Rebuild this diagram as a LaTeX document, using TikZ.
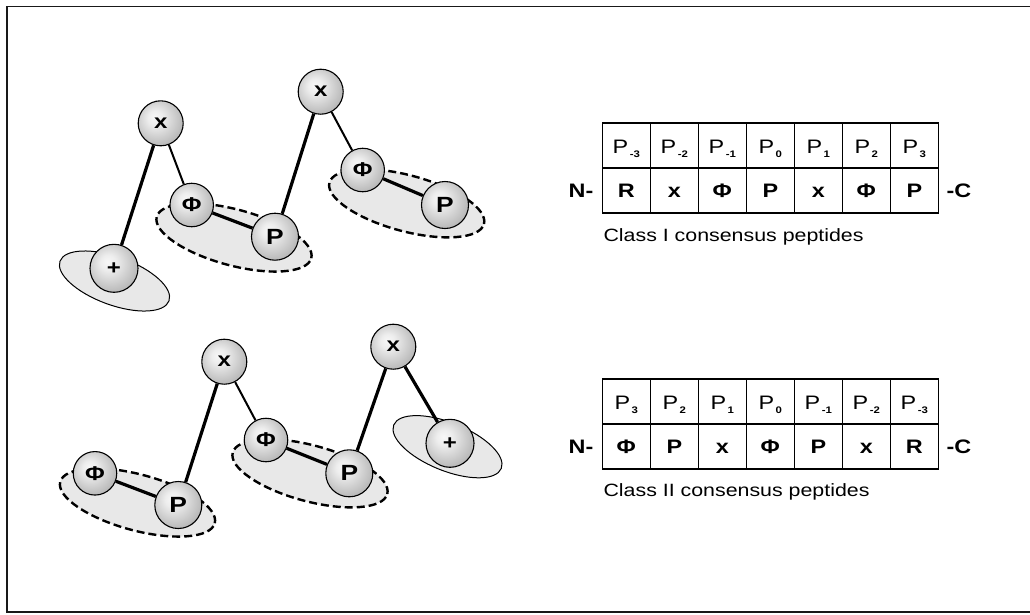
\documentclass[tikz,border=0pt]{standalone}
\usepackage{fontspec}
\setmainfont{Liberation Sans}
\newfontfamily\wf[FakeStretch=1.2]{Liberation Sans}
\usetikzlibrary{shapes.geometric}
\pgfdeclareradialshading{sphere}{\pgfpoint{-7bp}{7bp}}{color(0bp)=(white!97!black); color(8bp)=(white!93!black); color(26bp)=(black!25); color(44bp)=(black!43); color(60bp)=(black!55)}
\begin{document}
\begin{tikzpicture}[x=1pt,y=-1pt,
  ball/.style={circle, draw, line width=1.1pt, shading=sphere, inner sep=0pt,
    font=\wf\bfseries\fontsize{20}{20}\selectfont},
  bx/.style={ball, minimum size=45pt},
  bphi/.style={ball, minimum size=43.5pt},
  bp/.style={ball, minimum size=47pt, font=\wf\bfseries\fontsize{22}{22}\selectfont},
  bplus/.style={ball, minimum size=48pt},
  solidell/.style={ellipse, draw, line width=1pt, fill=black!9, inner sep=0pt,
    minimum width=116pt, minimum height=48pt},
  dashell/.style={ellipse, draw, line width=2.4pt, dash pattern=on 8pt off 4pt,
    fill=black!9, inner sep=0pt, minimum width=160pt, minimum height=56pt},
  thickln/.style={line width=3.2pt},
  thinln/.style={line width=2pt},
  grid/.style={line width=1.5pt},
  hdr/.style={anchor=base, font=\wf\fontsize{19.5}{20}\selectfont},
  cell/.style={anchor=base, font=\wf\bfseries\fontsize{19.5}{20}\selectfont},
  lbl/.style={font=\wf\bfseries\fontsize{19.5}{20}\selectfont},
  captxt/.style={anchor=base west, font=\wf\fontsize{17.8}{18}\selectfont}
]
\useasboundingbox (0,0) rectangle (1030,614);
\draw[line width=1.5pt, black!90] (7,6.5) rectangle (1034,612);

% ---------- top molecule ----------
\node[solidell, rotate=-20] (ep1) at (114.5,281) {};
\node[dashell, rotate=-15] (ed1) at (234,237.5) {};
\node[dashell, rotate=-15] (ed2) at (406.7,203.3) {};

\node[bx] (x1) at (160.7,123.3) {x};
\node[bphi] (phi1) at (191.7,205) {Φ};
\node[bp] (p1) at (275,236.7) {P};
\node[bplus] (plus1) at (114,268.3) {+};
\node[bx] (x2) at (320.7,91.7) {x};
\node[bphi] (phi2) at (362.7,170) {Φ};
\node[bp] (p2) at (445,205) {P};

\draw[thickln] (x1) -- (plus1);
\draw[thinln] (x1) -- (phi1);
\draw[thickln] (phi1) -- (p1);
\draw[thickln] (p1) -- (x2);
\draw[thinln] (x2) -- (phi2);
\draw[thickln] (phi2) -- (p2);

% ---------- bottom molecule ----------
\node[dashell, rotate=-15] (ed3) at (137.5,502.5) {};
\node[dashell, rotate=-15] (ed4) at (310,473.3) {};
\node[solidell, rotate=-22] (ep2) at (447.5,446.7) {};

\node[bphi] (phi3) at (95,473.3) {Φ};
\node[bp] (p3) at (178.3,505) {P};
\node[bx] (x3) at (224.3,361.7) {x};
\node[bphi] (phi4) at (266,440) {Φ};
\node[bp] (p4) at (349.3,473.3) {P};
\node[bx] (x4) at (393.3,346.7) {x};
\node[bplus] (plus2) at (450,443.3) {+};

\draw[thickln] (phi3) -- (p3);
\draw[thickln] (p3) -- (x3);
\draw[thinln] (x3) -- (phi4);
\draw[thickln] (phi4) -- (p4);
\draw[thickln] (p4) -- (x4);
\draw[thickln] (x4) -- (plus2);

% ---------- table I ----------
\draw[grid] (602.3,123) rectangle (938.3,213);
\draw[grid] (602.3,168) -- (938.3,168);
\foreach \i in {1,...,6} \draw[grid] ({602.3+48*\i},123) -- ({602.3+48*\i},213);
\foreach \s [count=\i from 0] in {-3,-2,-1,0,1,2,3}
  \node[hdr] (ta\i) at ({626.3+48*\i},153.3) {P\kern1.5pt\raisebox{-4.5pt}{\fontsize{9.5}{9.5}\selectfont\bfseries \s}};
\foreach \s [count=\i from 0] in {R,x,Φ,P,x,Φ,P}
  \node[cell] (tb\i) at ({626.3+48*\i},197.7) {\s};
\node[lbl] (n1) at (581,190.5) {N-};
\node[lbl] (c1) at (959,190.5) {-C};
\node[captxt] (cls1) at (600,241.7) {Class I consensus peptides};

% ---------- table II ----------
\draw[grid] (602.3,379) rectangle (938.3,469);
\draw[grid] (602.3,424) -- (938.3,424);
\foreach \i in {1,...,6} \draw[grid] ({602.3+48*\i},379) -- ({602.3+48*\i},469);
\foreach \s [count=\i from 0] in {3,2,1,0,-1,-2,-3}
  \node[hdr] (tc\i) at ({626.3+48*\i},409.3) {P\kern1.5pt\raisebox{-4.5pt}{\fontsize{9.5}{9.5}\selectfont\bfseries \s}};
\foreach \s [count=\i from 0] in {Φ,P,x,Φ,P,x,R}
  \node[cell] (td\i) at ({626.3+48*\i},453.7) {\s};
\node[lbl] (n2) at (581,446.5) {N-};
\node[lbl] (c2) at (959,446.5) {-C};
\node[captxt] (cls2) at (600,496.7) {Class II consensus peptides};
\end{tikzpicture}
\end{document}
